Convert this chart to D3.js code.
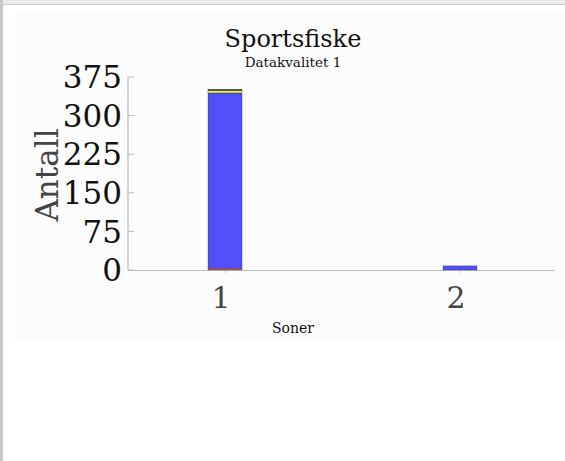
<!DOCTYPE html>
<html>
<head>
<meta charset="utf-8">
<script src="https://cdn.jsdelivr.net/npm/d3@7"></script>
<style>
  body { margin: 0; background: #fff; }
  text { font-family: "DejaVu Serif", serif; fill: #111; }
</style>
</head>
<body>
<svg id="svg1"></svg>
<script>
var W = 565, H = 461;

// data
var soner = ["1", "2"];
var seriesNames = ["rod", "bla", "gul", "svart"];
var seriesColors = ["#e0503c", "#5050f8", "#eeee44", "#111111"];
var rod = [3, 0];
var bla = [341, 8];
var gul = [5, 0];
var svart = [2, 0];
var yTicks = [0, 75, 150, 225, 300, 375];

var svg = d3.select('#svg1')
  .attr('width', W)
  .attr('height', H);

// frame
svg.append('rect').attr('x', 0).attr('y', 0).attr('width', W).attr('height', H).attr('fill', '#fff');
svg.append('rect').attr('x', 0).attr('y', 0).attr('width', W).attr('height', 4).attr('fill', '#ececec');
svg.append('rect').attr('x', 0).attr('y', 4).attr('width', W).attr('height', 1).attr('fill', '#c8c8c8');
svg.append('rect').attr('x', 0).attr('y', 0).attr('width', 3).attr('height', H).attr('fill', '#c8c8c8');
svg.append('rect').attr('x', 15).attr('y', 14).attr('width', W - 15).attr('height', 326).attr('fill', '#fcfcfc');

var x = d3.scalePoint().domain(soner).range([225, 460]);
var y = d3.scaleLinear().domain([0, 375]).range([270, 77]);
var barW = 34;

var rows = soner.map(function(s, i) {
  return { sone: s, rod: rod[i], bla: bla[i], gul: gul[i], svart: svart[i] };
});
var stacked = d3.stack().keys(seriesNames)(rows);

// axes
svg.append('line')
  .attr('x1', 128).attr('x2', 128)
  .attr('y1', y(375)).attr('y2', y(0))
  .attr('stroke', '#aaa');
svg.append('line')
  .attr('x1', 128).attr('x2', 555)
  .attr('y1', y(0) + 0.5).attr('y2', y(0) + 0.5)
  .attr('stroke', '#bbb');

svg.selectAll('.ytick')
  .data(yTicks)
  .enter()
  .append('line')
  .attr('x1', 128).attr('x2', 134)
  .attr('y1', function(d) { return y(d); })
  .attr('y2', function(d) { return y(d); })
  .attr('stroke', '#bbb');

svg.selectAll('.ylab')
  .data(yTicks)
  .enter()
  .append('text')
  .attr('x', 122)
  .attr('y', function(d) { return y(d); })
  .attr('dy', '0.36em')
  .attr('text-anchor', 'end')
  .style('font-size', '31px')
  .text(function(d) { return d; });

svg.selectAll('.xtick')
  .data(soner)
  .enter()
  .append('line')
  .attr('x1', function(d) { return x(d); })
  .attr('x2', function(d) { return x(d); })
  .attr('y1', y(0) + 1).attr('y2', y(0) + 3)
  .attr('stroke', '#ccc');

svg.selectAll('.xlab')
  .data(soner)
  .enter()
  .append('text')
  .attr('x', function(d) { return x(d) - 4; })
  .attr('y', 308)
  .attr('text-anchor', 'middle')
  .style('font-size', '30px')
  .style('fill', '#444')
  .text(function(d) { return d; });

// bars
svg.append('g')
  .selectAll('g')
  .data(stacked)
  .enter()
  .append('g')
  .attr('fill', function(d, i) { return seriesColors[i]; })
  .selectAll('rect')
  .data(function(d) { return d.filter(function(e) { return e[1] - e[0] > 0; }); })
  .enter()
  .append('rect')
  .attr('x', function(d) { return x(d.data.sone) - barW / 2; })
  .attr('y', function(d) { return y(d[1]); })
  .attr('width', barW)
  .attr('height', function(d) { return y(d[0]) - y(d[1]); })
  .attr('stroke', '#333')
  .attr('stroke-opacity', 0.55)
  .attr('stroke-width', 0.6);

// labels
svg.append('text')
  .attr('x', 293).attr('y', 47)
  .attr('text-anchor', 'middle')
  .style('font-size', '24px')
  .text('Sportsfiske');

svg.append('text')
  .attr('x', 293).attr('y', 67)
  .attr('text-anchor', 'middle')
  .style('font-size', '13.5px')
  .text('Datakvalitet 1');

svg.append('text')
  .attr('transform', 'translate(58,175) rotate(-90)')
  .attr('text-anchor', 'middle')
  .style('font-size', '31px')
  .style('fill', '#444')
  .text('Antall');

svg.append('text')
  .attr('x', 293).attr('y', 333)
  .attr('text-anchor', 'middle')
  .style('font-size', '14px')
  .text('Soner');
</script>
</body>
</html>
